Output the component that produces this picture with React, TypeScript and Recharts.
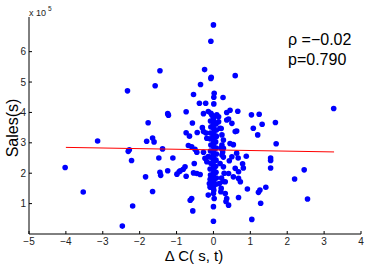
import React from 'react';
import { ScatterChart, Scatter, XAxis, YAxis } from 'recharts';

const xTicks = [-5, -4, -3, -2, -1, 0, 1, 2, 3, 4];
const yTicks = [1, 2, 3, 4, 5, 6];
const xDomain: [number, number] = [-5, 4];
const yDomain: [number, number] = [0, 7.14];

// [ΔC(s,t), Sales (x 10^5)]
const outerPoints: [number, number][] = [
  [-4.02, 2.19], [-3.53, 1.38], [-3.14, 3.06], [-2.47, 0.26], [-2.19, 0.92], [-2.31, 2.72],
  [-2.28, 2.77], [-2.22, 2.42], [-1.81, 3.05], [-1.84, 1.88], [-1.65, 3.16], [-1.61, 3.03],
  [-1.65, 1.40], [-1.38, 2.80], [-1.48, 2.50], [-1.45, 2.03], [-1.43, 1.93], [-1.24, 2.08],
  [-1.10, 2.50], [-0.99, 1.97], [-0.90, 2.08], [-2.33, 4.71], [-1.58, 4.88], [-1.45, 5.37],
  [-1.77, 3.66], [-1.24, 3.96], [-1.22, 3.91],
];

const upperPoints: [number, number][] = [
  [0, 6.88], [-0.07, 6.34], [-0.24, 5.41], [-0.06, 5.16], [-0.07, 5.12], [0.59, 5.21],
  [-0.35, 4.92], [-0.54, 4.59], [0.02, 4.63], [0.01, 4.50], [0.26, 4.49], [-0.38, 4.30],
  [-0.21, 4.30], [0.01, 4.28], [-0.74, 4.02], [0.45, 4.07], [0.36, 4.00], [0.66, 4.04],
  [1.03, 3.92], [1.24, 3.94], [1.68, 3.67], [3.26, 4.13], [-0.27, 3.96], [-0.14, 4.03],
  [-0.07, 3.97], [-0.04, 3.91], [0.02, 3.86], [0.09, 3.92], [0.14, 3.86], [0.41, 3.78],
  [-0.57, 3.65], [1.08, 3.48], [1.32, 3.61], [0.63, 3.39], [-0.30, 3.50], [-0.27, 3.37],
  [-0.20, 3.32], [0.21, 3.47], [-0.44, 3.34], [0.14, 3.69], [0.18, 3.48], [0.23, 3.26],
  [0.27, 3.09], [0.36, 3.75], [0.50, 3.64], [0.59, 3.37], [0.45, 2.98], [-0.74, 3.33],
  [-0.65, 3.22], [-0.18, 3.15], [1.20, 3.26], [0.08, 3.21],
];

const middlePoints: [number, number][] = [
  [-0.68, 2.91], [-0.59, 2.87], [-0.50, 2.79], [-0.45, 2.69], [-0.27, 2.69], [0.23, 2.93],
  [0.27, 2.82], [0.20, 2.83], [0.54, 2.94], [0.50, 2.54], [0.43, 2.41], [0.23, 2.60],
  [0.27, 2.53], [-0.52, 2.32], [-0.23, 2.49], [-0.18, 2.38], [-0.14, 2.55], [-0.54, 2.01],
  [-0.45, 1.99], [-0.36, 1.96], [0.18, 2.32], [0.27, 2.21], [0.41, 1.99], [0.54, 1.88],
  [0.59, 2.16], [0.68, 2.05], [0.68, 1.83], [0.73, 1.72], [0.63, 2.66], [0.67, 2.50],
  [0.79, 2.31], [0.81, 2.17], [0.89, 2.56], [-0.77, 2.21], [-0.82, 2.13], [-0.93, 2.05],
  [-0.74, 1.90], [0.16, 1.66], [0.20, 1.39], [0.32, 1.33], [0.36, 1.17], [0.41, 0.95],
  [0.34, 1.07], [0.32, 1.72], [0.21, 1.50], [-0.11, 1.66], [-0.09, 1.80], [-0.09, 1.55],
  [-0.14, 1.28], [0, 1.33], [0.02, 1.17], [0, 0.90], [0, 0.42], [-0.59, 1.17],
  [-0.63, 1.11], [-0.56, 0.76], [0.92, 1.48], [1.22, 1.37], [1.26, 1.45], [1.42, 1.54],
  [0.68, 1.20], [1.04, 0.48], [1.28, 1.01], [2.55, 1.15], [2.20, 1.81], [2.46, 2.11],
  [1.55, 2.50], [1.55, 2.42], [1.55, 2.17], [1.70, 2.97], [0.29, 2.00], [0.22, 1.84],
  [0.26, 1.73], [0.25, 2.70],
];

const columnPoints: [number, number][] = [
  [0.00, 3.79], [0.01, 3.69], [-0.01, 3.59], [0.00, 3.49], [0.02, 3.39], [0.00, 3.29],
  [-0.01, 3.19], [0.01, 3.09], [0.00, 2.99], [0.00, 2.89], [0.02, 2.79], [-0.01, 2.69],
  [0.00, 2.59], [0.01, 2.50], [0.00, 2.40], [-0.01, 2.30], [0.00, 2.20], [0.01, 2.10],
  [0.00, 2.00], [0.00, 1.90], [0.02, 1.81], [0.00, 1.71], [-0.01, 1.61], [0.00, 1.51],
  [0.01, 1.44],
  [-0.08, 3.72], [-0.07, 3.52], [-0.08, 3.32], [-0.09, 3.13], [-0.07, 2.93], [-0.08, 2.73],
  [-0.08, 2.53], [-0.07, 2.33], [-0.09, 2.14], [-0.08, 1.94], [-0.07, 1.74], [-0.08, 1.54],
  [0.07, 3.62], [0.08, 3.42], [0.07, 3.22], [0.06, 3.03], [0.07, 2.83], [0.08, 2.63],
  [0.07, 2.43], [0.06, 2.23], [0.07, 2.03], [0.08, 1.84], [0.07, 1.64],
];

const fitX = [-4, 3.27];
const fitY = [2.85, 2.7];

const rhoLabel = 'ρ =−0.02';
const pLabel = 'p=0.790';
const xTitle = 'Δ C( s, t)';
const yTitle = 'Sales(s)';

const scatterData = [...outerPoints, ...upperPoints, ...middlePoints, ...columnPoints].map(
  ([x, y]) => ({ x, y })
);
const fitData = fitX.map((x, i) => ({ x, y: fitY[i] }));

const FONT = '"Liberation Sans", Arial, Helvetica, sans-serif';
const fmt = (v: number) => (v < 0 ? '\u2212' + Math.abs(v) : String(v));
const blank = () => '';

const Dot = (props: any) => (
  <circle cx={props.cx} cy={props.cy} r={2.8} fill="#0000ff" />
);
const NoDot = () => <g />;

export default function App() {
  const axisStyle = { stroke: '#000', strokeWidth: 1 };
  const tickStyle = { fontSize: 10, fill: '#222', fontFamily: FONT };
  return (
    <div style={{ position: 'absolute', left: 0, top: 0, width: 366, height: 265, overflow: 'hidden', background: '#fff' }}>
      <ScatterChart width={366} height={265} margin={{ top: 17, right: 5, bottom: 0, left: 0 }}>
        <XAxis
          type="number"
          dataKey="x"
          domain={xDomain}
          ticks={xTicks}
          interval={0}
          allowDataOverflow
          height={31}
          tickSize={-3}
          tickMargin={7}
          axisLine={axisStyle}
          tickLine={axisStyle}
          tick={tickStyle}
          tickFormatter={fmt}
        />
        <XAxis
          xAxisId="top"
          orientation="top"
          type="number"
          dataKey="x"
          domain={xDomain}
          ticks={xTicks}
          interval={0}
          allowDataOverflow
          height={0}
          tickSize={-3}
          axisLine={axisStyle}
          tickLine={axisStyle}
          tick={tickStyle}
          tickFormatter={blank}
        />
        <YAxis
          type="number"
          dataKey="y"
          domain={yDomain}
          ticks={yTicks}
          interval={0}
          allowDataOverflow
          width={29}
          tickSize={-3}
          tickMargin={6}
          axisLine={axisStyle}
          tickLine={axisStyle}
          tick={tickStyle}
        />
        <YAxis
          yAxisId="right"
          orientation="right"
          type="number"
          dataKey="y"
          domain={yDomain}
          ticks={yTicks}
          interval={0}
          allowDataOverflow
          width={0}
          tickSize={-3}
          axisLine={axisStyle}
          tickLine={axisStyle}
          tick={tickStyle}
          tickFormatter={blank}
        />
        <Scatter data={scatterData} shape={Dot} isAnimationActive={false} />
        <Scatter
          data={fitData}
          shape={NoDot}
          line={{ stroke: '#ff0000', strokeWidth: 1 }}
          isAnimationActive={false}
        />
      </ScatterChart>
      <svg
        width={366}
        height={265}
        style={{ position: 'absolute', left: 0, top: 0, pointerEvents: 'none' }}
        fontFamily={FONT}
      >
        <text x={29} y={15.5} fontSize={9} fill="#222">x 10</text>
        <text x={48} y={10.5} fontSize={6.5} fill="#222">5</text>
        <text transform="translate(17.5,128) rotate(-90)" textAnchor="middle" fontSize={16} fill="#000">
          {yTitle}
        </text>
        <text x={194} y={260.5} textAnchor="middle" fontSize={15} fill="#000">
          {xTitle}
        </text>
        <text x={288} y={45} fontSize={16} fill="#000">{rhoLabel}</text>
        <text x={288} y={65} fontSize={16} fill="#000">{pLabel}</text>
      </svg>
    </div>
  );
}
